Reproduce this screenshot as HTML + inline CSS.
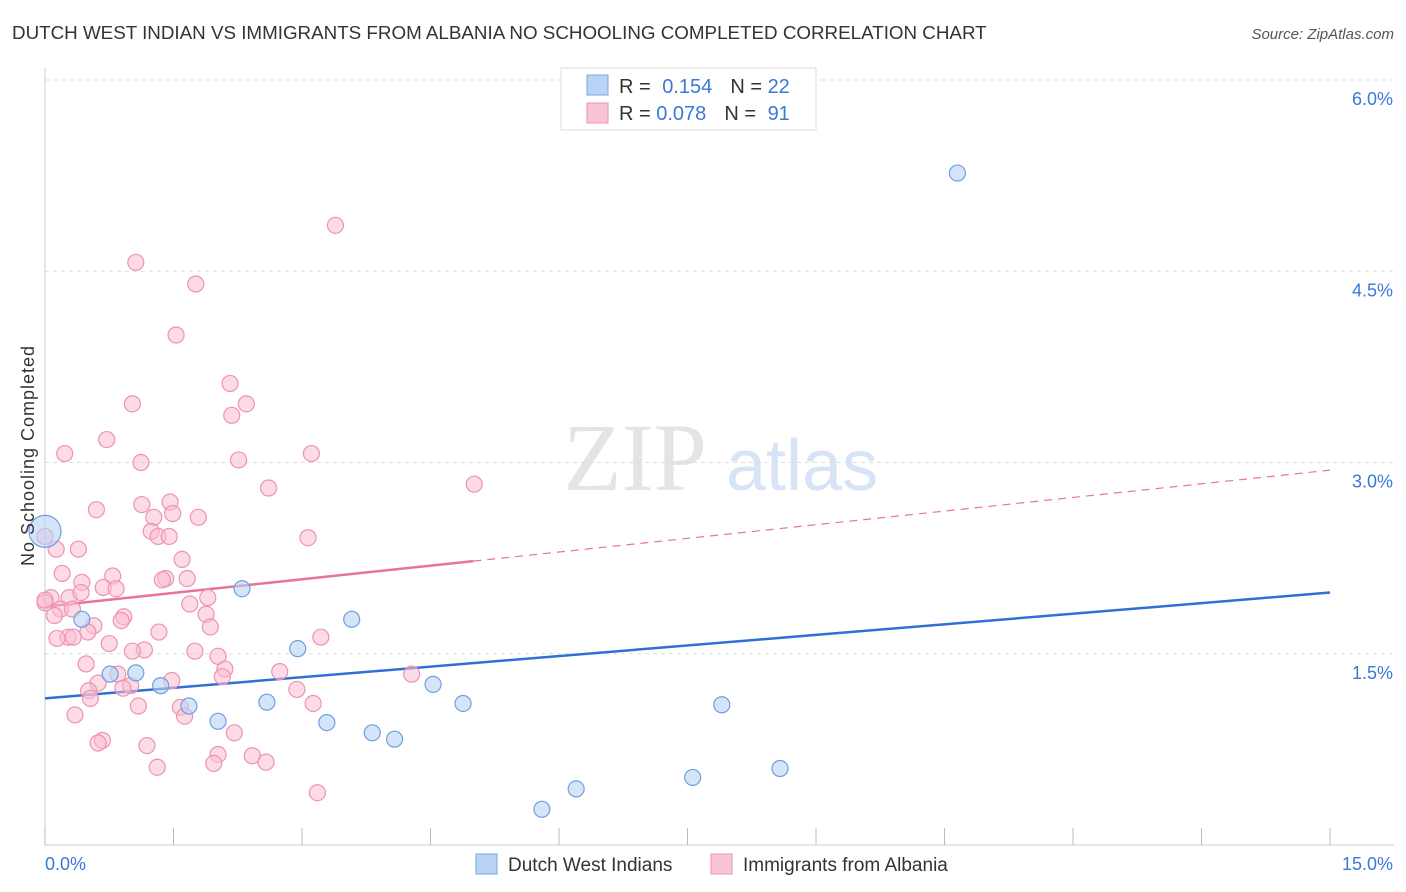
<!DOCTYPE html>
<html><head><meta charset="utf-8"><style>
body{margin:0;background:#fff;font-family:"Liberation Sans",sans-serif;}
svg{display:block}
</style></head><body>
<svg id="chart" width="1406" height="892">
<text x="12" y="39" font-size="18.8" fill="#333">DUTCH WEST INDIAN VS IMMIGRANTS FROM ALBANIA NO SCHOOLING COMPLETED CORRELATION CHART</text>
<text x="1394" y="39" font-size="15" fill="#555" font-style="italic" text-anchor="end">Source: ZipAtlas.com</text>
<text x="635" y="490" font-size="96" fill="#e4e4e4" text-anchor="middle" font-family="Liberation Serif,serif">ZIP</text>
<text x="802" y="490" font-size="72" fill="#d6e4f5" text-anchor="middle">atlas</text>
<g id="grid"></g>
<g id="axes"></g>
<g id="lines"></g>
<g id="pts"></g>
<text x="34" y="456" font-size="18" fill="#333" transform="rotate(-90 34 456)" text-anchor="middle" textLength="220">No Schooling Completed</text>
<g>
<rect x="561" y="68" width="255" height="62" fill="#fff" stroke="#ddd"/>
<rect x="587" y="75" width="21" height="20" fill="#b8d3f5" stroke="#7aa7e0"/>
<rect x="587" y="103" width="21" height="20" fill="#f9c5d5" stroke="#ee93b0"/>
<text x="619" y="93" font-size="20" fill="#333">R = <tspan fill="#3b78d8" dx="6">0.154</tspan><tspan fill="#333" dx="18">N = </tspan><tspan fill="#3b78d8">22</tspan></text>
<text x="619" y="120" font-size="20" fill="#333">R = <tspan fill="#3b78d8">0.078</tspan><tspan fill="#333" dx="18">N = </tspan><tspan fill="#3b78d8" dx="6">91</tspan></text>
</g>
<g>
<rect x="476" y="854" width="21" height="20" fill="#b8d3f5" stroke="#7aa7e0"/>
<text x="508" y="871" font-size="19" fill="#333">Dutch West Indians</text>
<rect x="711" y="854" width="21" height="20" fill="#f9c5d5" stroke="#ee93b0"/>
<text x="743" y="871" font-size="19" fill="#333">Immigrants from Albania</text>
</g>
</svg>
<script>
const yTicks=[1.5,3.0,4.5,6.0];
const xTickLabels=["0.0%","15.0%"];
const blueX=[10.65,0,0.43,0.76,1.06,1.35,1.68,2.02,2.30,2.59,2.95,3.29,3.58,3.82,4.08,4.53,4.88,5.80,6.20,7.56,7.90,8.58];
const blueY=[5.27,2.46,1.77,1.34,1.35,1.25,1.09,0.97,2.01,1.12,1.54,0.96,1.77,0.88,0.83,1.26,1.11,0.28,0.44,0.53,1.10,0.60];
const pinkX=[3.39,1.06,1.76,1.53,2.16,1.02,2.35,2.18,0.72,0.23,1.12,2.26,3.11,2.61,5.01,0.60,1.13,1.46,1.79,1.49,1.27,1.24,1.32,1.45,3.07,0,0.13,0.39,1.60,0.20,0.79,1.41,1.37,1.66,0.43,0.68,0.83,0.07,0.28,0.42,1.90,1.69,0,0.18,0.32,0.11,0.92,1.88,0.89,0.57,1.93,0.50,1.33,0.27,0.14,0.33,3.22,0.75,1.16,1.02,1.75,2.02,0.48,2.10,2.74,0.85,2.07,1.48,0.62,1.00,0.91,2.94,0.51,4.28,0.53,1.09,1.58,3.13,1.63,0.35,2.21,0.67,0.62,1.19,2.02,2.42,1.97,2.58,1.31,3.18,0];
const pinkY=[4.86,4.57,4.40,4.00,3.62,3.46,3.46,3.37,3.18,3.07,3.00,3.02,3.07,2.80,2.83,2.63,2.67,2.69,2.57,2.60,2.57,2.46,2.42,2.42,2.41,2.42,2.32,2.32,2.24,2.13,2.11,2.09,2.08,2.09,2.06,2.02,2.01,1.94,1.94,1.98,1.94,1.89,1.90,1.85,1.85,1.80,1.79,1.81,1.76,1.72,1.71,1.67,1.67,1.63,1.62,1.63,1.63,1.58,1.53,1.52,1.52,1.48,1.42,1.38,1.36,1.34,1.32,1.29,1.27,1.25,1.23,1.22,1.21,1.34,1.15,1.09,1.08,1.11,1.01,1.02,0.88,0.82,0.80,0.78,0.71,0.70,0.64,0.65,0.61,0.41,1.92];
const blueLine=[1.15,1.98];
const pinkLine=[1.87,2.94];
const pinkSolidEnd=5.0;
const X=v=>45+v*85.67, Y=v=>845-v*127.5;
const NS="http://www.w3.org/2000/svg";
function mk(tag,attrs,parent){const e=document.createElementNS(NS,tag);for(const k in attrs)e.setAttribute(k,attrs[k]);parent.appendChild(e);return e;}
const grid=document.getElementById('grid'),axes=document.getElementById('axes'),lines=document.getElementById('lines'),pts=document.getElementById('pts');
yTicks.forEach(t=>{
 const l=mk('line',{x1:45,x2:1394,y1:Y(t),y2:Y(t),stroke:'#ddd','stroke-dasharray':'4,4'},grid);
 
 
 const tx=mk('text',{x:1393,y:Y(t)+25,'font-size':18,fill:'#3b78d8','text-anchor':'end'},axes);
 tx.textContent=t.toFixed(1)+'%';
 
 
});
mk('line',{x1:45,x2:45,y1:68,y2:845,stroke:'#ccc'},axes);
mk('line',{x1:45,x2:1394,y1:845,y2:845,stroke:'#ccc'},axes);
for(let i=0;i<=10;i++){const t=mk('line',{x1:X(i*1.5),x2:X(i*1.5),y1:828,y2:845,stroke:'#bbb'},axes);
 
 }
const xl0=mk('text',{x:45,y:870,'font-size':18,fill:'#3b78d8'},axes);xl0.textContent=xTickLabels[0];


const xl1=mk('text',{x:1393,y:870,'font-size':18,fill:'#3b78d8','text-anchor':'end'},axes);xl1.textContent=xTickLabels[1];


const bl=mk('line',{x1:X(0),y1:Y(blueLine[0]),x2:X(15),y2:Y(blueLine[1]),stroke:'#2f6fd6','stroke-width':2.5},lines);


const pAt=v=>pinkLine[0]+(pinkLine[1]-pinkLine[0])*v/15;
const pl=mk('line',{x1:X(0),y1:Y(pinkLine[0]),x2:X(pinkSolidEnd),y2:Y(pAt(pinkSolidEnd)),stroke:'#e8739a','stroke-width':2.5},lines);


const pd=mk('line',{x1:X(pinkSolidEnd),y1:Y(pAt(pinkSolidEnd)),x2:X(15),y2:Y(pinkLine[1]),stroke:'#e8739a','stroke-width':1.2,'stroke-dasharray':'8,6'},lines);


pinkX.forEach((x,i)=>{const c=mk('circle',{cx:X(x),cy:Y(pinkY[i]),r:8,fill:'rgba(249,190,210,0.55)',stroke:'#ee93b0','stroke-width':1.2},pts);
 
 });
blueX.forEach((x,i)=>{const c=mk('circle',{cx:X(x),cy:Y(blueY[i]),r:(i==1?16:8),fill:'rgba(184,211,245,0.6)',stroke:'#6f9fdd','stroke-width':1.2},pts);
 
 });
</script>
</body></html>
